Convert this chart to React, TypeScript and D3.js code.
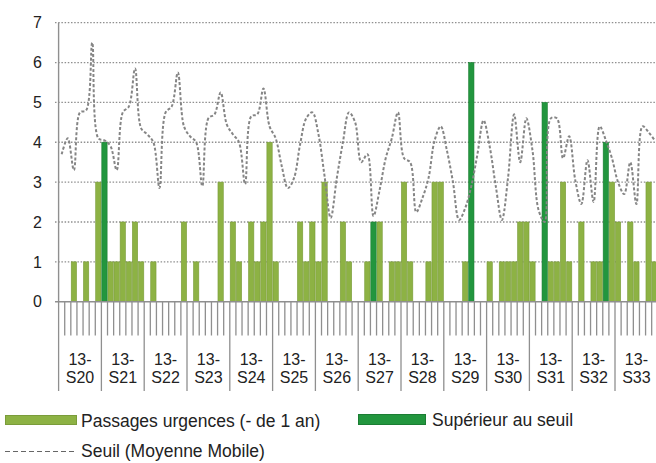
import React from 'react';
import * as d3 from 'd3';

// Week labels (7 days each)
const weeks = [
  '13-S20', '13-S21', '13-S22', '13-S23', '13-S24', '13-S25', '13-S26',
  '13-S27', '13-S28', '13-S29', '13-S30', '13-S31', '13-S32', '13-S33',
];

// Daily emergency visits (< 1 year) – below threshold
const passages = [
  0, 0, 1, 0, 1, 0, 3,
  0, 1, 1, 2, 1, 2, 1,
  0, 1, 0, 0, 0, 0, 2,
  0, 1, 0, 0, 0, 3, 0,
  2, 1, 0, 2, 1, 2, 4,
  1, 0, 0, 0, 2, 1, 2,
  1, 3, 0, 0, 2, 1, 0,
  0, 1, 0, 2, 0, 1, 1,
  3, 1, 0, 0, 1, 3, 3,
  0, 0, 0, 1, 0, 0, 0,
  1, 0, 1, 1, 1, 2, 2,
  1, 0, 0, 1, 1, 3, 1,
  0, 2, 0, 1, 1, 0, 3,
  2, 0, 2, 1, 0, 3, 1,
];

// Daily visits above threshold
const superieur = [
  0, 0, 0, 0, 0, 0, 0,
  4, 0, 0, 0, 0, 0, 0,
  0, 0, 0, 0, 0, 0, 0,
  0, 0, 0, 0, 0, 0, 0,
  0, 0, 0, 0, 0, 0, 0,
  0, 0, 0, 0, 0, 0, 0,
  0, 0, 0, 0, 0, 0, 0,
  0, 0, 2, 0, 0, 0, 0,
  0, 0, 0, 0, 0, 0, 0,
  0, 0, 0, 0, 6, 0, 0,
  0, 0, 0, 0, 0, 0, 0,
  0, 0, 5, 0, 0, 0, 0,
  0, 0, 0, 0, 0, 4, 0,
  0, 0, 0, 0, 0, 0, 0,
];

// Threshold (moving average)
const seuil = [
  3.7, 4.1, 3.3, 4.75, 4.8, 6.5, 4.1,
  4.05, 3.9, 3.3, 4.75, 4.9, 5.85, 4.35,
  4.2, 4.0, 2.85, 4.75, 4.9, 5.75, 4.4,
  4.15, 4.0, 2.9, 4.6, 4.7, 5.25, 4.45,
  4.2, 4.0, 2.95, 4.65, 4.7, 5.35, 4.4,
  4.1, 3.4, 2.85, 3.1, 3.95, 4.6, 4.75,
  4.2, 3.15, 2.1, 3.1, 4.0, 4.75, 4.5,
  3.5, 3.7, 2.15, 2.8, 3.6, 4.1, 4.75,
  3.6, 3.5, 2.25, 2.6, 3.1, 4.05, 4.4,
  3.8, 3.0, 2.05, 2.35, 2.9, 3.7, 4.55,
  3.9, 2.9, 2.05, 3.1, 4.7, 3.5, 4.6,
  3.8, 2.3, 2.0, 4.6, 4.6, 3.6, 4.15,
  3.05, 2.45, 3.55, 2.5, 4.4, 4.05, 3.6,
  3.0, 2.7, 3.5, 2.45, 4.4, 4.25, 4.05,
];

const yTicks = [0, 1, 2, 3, 4, 5, 6, 7];

const legendLabels = {
  passages: 'Passages urgences (- de 1 an)',
  superieur: 'Supérieur au seuil',
  seuil: 'Seuil (Moyenne Mobile)',
};

const W = 656;
const H = 463;
const FONT = '"Liberation Sans", Arial, sans-serif';
const LIGHT = '#8db244';
const LIGHT_EDGE = '#7a9c3a';
const DARK = '#22963e';
const DARK_EDGE = '#1b7d33';
const GRID = '#8f8f8f';

export default function App() {
  const n = passages.length;
  const x = d3.scaleBand<number>().domain(d3.range(n)).range([58.6, 657.8]).padding(0);
  const bw = x.bandwidth();
  const y = d3.scaleLinear().domain([0, 7]).range([301.7, 22.7]);

  const line = d3
    .line<number>()
    .x((_, i) => (x(i) as number) + bw / 2)
    .y((v) => y(v))
    .curve(d3.curveCatmullRom.alpha(0.5));

  const boundaries = d3.range(n + 1).map((k) => ({ k, px: 58.6 + k * bw }));

  return (
    <div style={{ position: 'absolute', left: 0, top: 0, width: W, height: H }}>
      <svg width={W} height={H} style={{ display: 'block', background: '#fff' }} fontFamily={FONT}>
        {/* gridlines */}
        {yTicks.filter((t) => t > 0).map((t) => (
          <line
            key={'g' + t}
            x1={55}
            x2={W}
            y1={y(t)}
            y2={y(t)}
            stroke={GRID}
            strokeWidth={1.3}
            strokeDasharray="1.5,1.7"
          />
        ))}
        {/* y tick labels */}
        {yTicks.map((t) => (
          <text key={'yl' + t} x={42} y={y(t)} dy="0.36em" textAnchor="end" fontSize={16} fill="#222">
            {t}
          </text>
        ))}
        {/* light bars */}
        {passages.map((v, i) =>
          v > 0 ? (
            <rect
              key={'p' + i}
              x={(x(i) as number) + 0.4}
              y={y(v)}
              width={bw - 0.8}
              height={y(0) - y(v)}
              fill={LIGHT}
              stroke={LIGHT_EDGE}
              strokeWidth={0.6}
            />
          ) : null
        )}
        {/* dark bars */}
        {superieur.map((v, i) =>
          v > 0 ? (
            <rect
              key={'s' + i}
              x={(x(i) as number) + 0.4}
              y={y(v)}
              width={bw - 0.8}
              height={y(0) - y(v)}
              fill={DARK}
              stroke={DARK_EDGE}
              strokeWidth={0.6}
            />
          ) : null
        )}
        {/* threshold line */}
        <path
          d={line(seuil) || ''}
          fill="none"
          stroke="#858585"
          strokeWidth={2}
          strokeDasharray="3,2"
        />
        {/* axes */}
        <line x1={58.6} x2={58.6} y1={y(7)} y2={y(0)} stroke={GRID} strokeWidth={1.4} />
        <line x1={55} x2={W} y1={y(0)} y2={y(0)} stroke={GRID} strokeWidth={1.4} />
        {boundaries.map(({ k, px }) => (
          <line
            key={'t' + k}
            x1={px}
            x2={px}
            y1={y(0)}
            y2={k % 7 === 0 ? 391 : 335.5}
            stroke={GRID}
            strokeWidth={1.3}
          />
        ))}
        {/* week labels */}
        {weeks.map((w, wi) => {
          const cx = (x(wi * 7) as number) + 3.5 * bw;
          const parts = w.split('-');
          return (
            <text key={'w' + wi} textAnchor="middle" fontSize={16} fill="#222">
              <tspan x={cx} y={365}>{parts[0] + '-'}</tspan>
              <tspan x={cx} y={383}>{parts[1]}</tspan>
            </text>
          );
        })}
        {/* legend */}
        <rect x={5.5} y={415.5} width={71} height={9} fill={LIGHT} stroke={LIGHT_EDGE} strokeWidth={1} />
        <text x={81} y={427} fontSize={17.5} fill="#222">{legendLabels.passages}</text>
        <rect x={358.5} y={414.5} width={67} height={10} fill={DARK} stroke={DARK_EDGE} strokeWidth={1} />
        <text x={432} y={426} fontSize={17.5} fill="#222">{legendLabels.superieur}</text>
        <line x1={5} x2={75} y1={451.5} y2={451.5} stroke="#666" strokeWidth={1} strokeDasharray="5,3" />
        <text x={81} y={457} fontSize={17.5} fill="#222">{legendLabels.seuil}</text>
      </svg>
    </div>
  );
}
